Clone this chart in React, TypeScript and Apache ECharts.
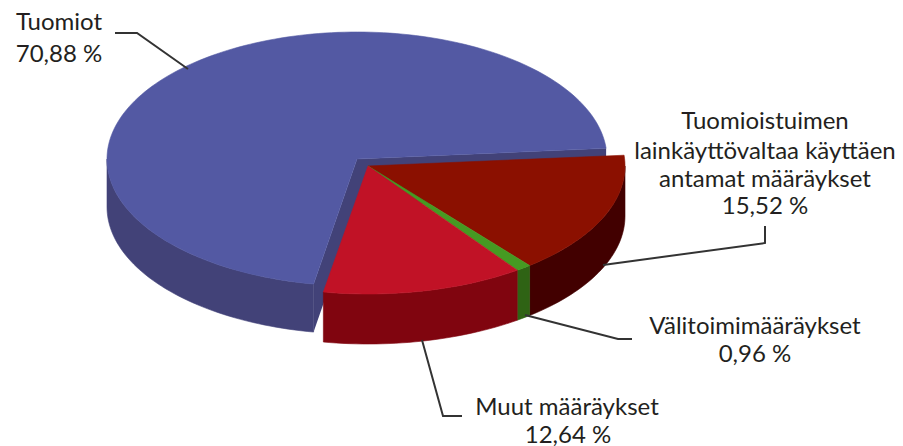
import React, { useEffect, useRef } from "react";
import * as echarts from "echarts";

const categories = ["Tuomiot", "Tuomioistuimen lainkäyttövaltaa käyttäen antamat määräykset", "Välitoimimääräykset", "Muut määräykset"];
const shares = [70.88, 15.52, 0.96, 12.64];
const topColors = ["#5359A3", "#8B1000", "#469A22", "#C11226"];
const wallColors = ["#424278", "#420000", "#2F6314", "#80050F"];

const START_ANGLE = 100;
const detached = { cx: 368, cy: 166, rx: 257, ry: 128, depth: 50 };
const main = { cx: 357, cy: 159, rx: 250, ry: 127, depth: 48 };

const rad = (d: number) => (d * Math.PI) / 180;

function arcPoints(g: any, a0: number, a1: number, dy = 0) {
  const pts: number[][] = [];
  const n = Math.max(2, Math.ceil(Math.abs(a1 - a0) / 1.5));
  for (let i = 0; i <= n; i++) {
    const a = rad(a0 + ((a1 - a0) * i) / n);
    pts.push([g.cx + g.rx * Math.cos(a), g.cy + g.ry * Math.sin(a) + dy]);
  }
  return pts;
}

function poly(points: number[][], fill: string, stroke = false) {
  return {
    type: "polygon",
    shape: { points },
    style: { fill, stroke: stroke ? fill : "none", lineWidth: stroke ? 0.6 : 0 },
  };
}

function renderSlice(params: any, api: any) {
  const i = params.dataIndex;
  const before = shares.slice(0, i).reduce((a, b) => a + b, 0);
  const a0 = START_ANGLE + (before * 360) / 100;
  const a1 = a0 + (api.value(0) * 360) / 100;
  const g = i === 0 ? main : detached;
  const children: any[] = [];
  const apex = [g.cx, g.cy];
  const edge = (a: number) => [g.cx + g.rx * Math.cos(rad(a)), g.cy + g.ry * Math.sin(rad(a))];
  const down = (p: number[]) => [p[0], p[1] + g.depth];

  if (i === 0) {
    const s = edge(a0);
    const e = edge(a1);
    children.push(poly([apex, s, down(s), down(apex)], wallColors[i]));
    children.push(poly([apex, e, down(e), down(apex)], wallColors[i]));
  }
  // outer wall: only the front half of the ellipse can be seen
  for (const base of [0, 360]) {
    const from = Math.max(a0, base);
    const to = Math.min(a1, base + 180);
    if (to > from) {
      children.push(poly([...arcPoints(g, from, to), ...arcPoints(g, to, from, g.depth)], wallColors[i], true));
    }
  }
  children.push(poly([apex, ...arcPoints(g, a0, a1)], topColors[i], true));
  return { type: "group", children };
}

const labelStyle = { fontFamily: "Lato", fontSize: 24, fill: "#231F20", textAlign: "center", textVerticalAlign: "middle" };
const label = (x: number, y: number, text: string) => ({ type: "text", x, y, style: { ...labelStyle, text } });
const leader = (points: number[][]) => ({
  type: "polyline",
  shape: { points },
  style: { stroke: "#333333", lineWidth: 2, fill: "none" },
  z: 5,
});

export default function App() {
  const ref = useRef<HTMLDivElement>(null);
  useEffect(() => {
    const chart = echarts.init(ref.current!, undefined, { renderer: "svg" });
    chart.setOption({
      animation: false,
      backgroundColor: "#fff",
      series: [
        {
          type: "custom",
          coordinateSystem: "none",
          renderItem: renderSlice,
          data: shares.map((v, i) => ({ name: categories[i], value: [v], itemStyle: { color: topColors[i] } })),
          z: 2,
          silent: true,
        },
      ],
      graphic: [
        leader([[115, 33], [137, 33], [188, 69]]),
        leader([[603, 265], [765, 243], [765, 226]]),
        leader([[525, 315], [618, 339], [632, 339]]),
        leader([[422, 340], [443, 416], [462, 416]]),
        label(59, 20, "Tuomiot"),
        label(59, 52, "70,88 %"),
        label(765, 119, "Tuomioistuimen"),
        label(765, 149, "lainkäyttövaltaa käyttäen"),
        label(765, 177, "antamat määräykset"),
        label(765, 204, "15,52 %"),
        label(755, 324, "Välitoimimääräykset"),
        label(755, 352, "0,96 %"),
        label(567, 405, "Muut määräykset"),
        label(568, 433, "12,64 %"),
      ],
    });
    return () => chart.dispose();
  }, []);
  return <div ref={ref} style={{ position: "fixed", left: 0, top: 0, width: 903, height: 446 }} />;
}
